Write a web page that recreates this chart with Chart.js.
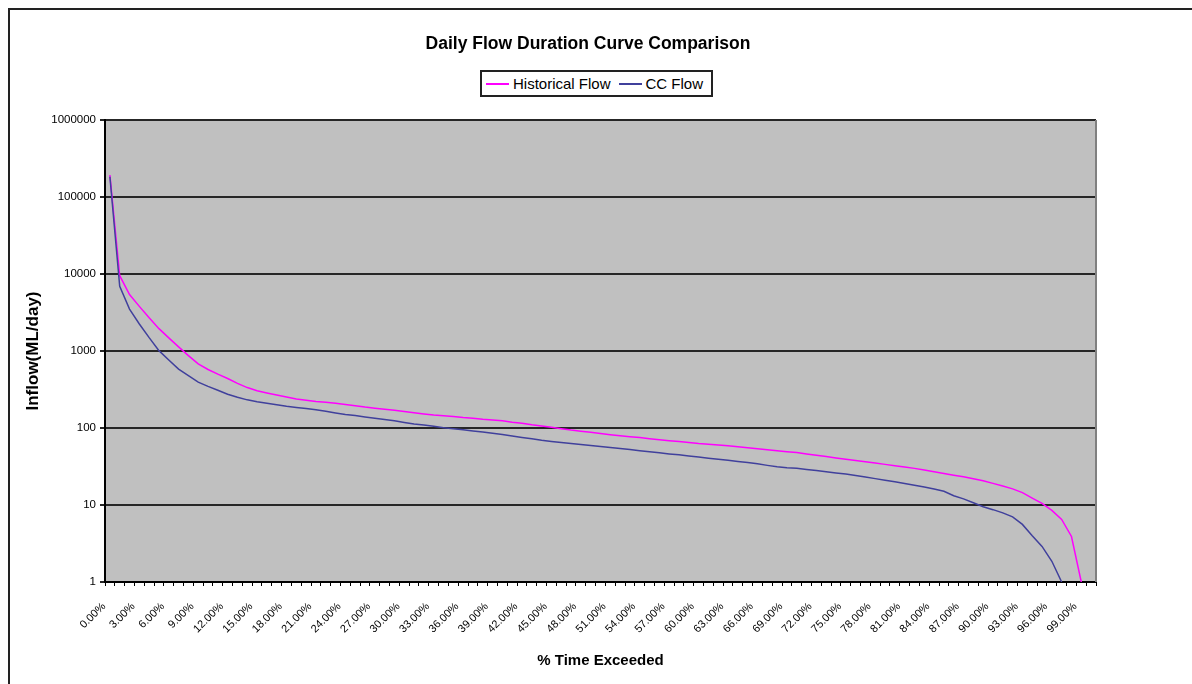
<!DOCTYPE html>
<html>
<head>
<meta charset="utf-8">
<title>Daily Flow Duration Curve Comparison</title>
<script src="https://cdn.jsdelivr.net/npm/chart.js@4.4.1/dist/chart.umd.min.js"></script>
<style>
  html, body { margin: 0; padding: 0; background: #fff; overflow: hidden; }
  body { width: 1192px; height: 684px; position: relative; font-family: Arial, "Liberation Sans", sans-serif; }
  #frame { position: absolute; left: 8px; top: 8px; width: 1200px; height: 700px; border-left: 2px solid #222; border-top: 2px solid #222; }
  #chartTitle { position: absolute; left: 0; top: 33px; width: 1176px; text-align: center; font-weight: bold; font-size: 17.5px; line-height: 20px; color: #000; }
  #legend { position: absolute; left: 480px; top: 70px; width: 233px; height: 27px; box-sizing: border-box; border: 2px solid #222; background: #fff;
            display: flex; align-items: center; font-size: 15px; color: #000; padding-left: 4px; }
  #legend .ln { display: inline-block; width: 23px; height: 2px; margin-right: 4px; }
  #legend .item { display: flex; align-items: center; margin-right: 8px; white-space: nowrap; }
  #wrap { position: absolute; left: 0; top: 0; width: 1192px; height: 684px; }
</style>
</head>
<body>
<div id="frame"></div>
<div id="wrap"><canvas id="flowCanvas" width="1192" height="684"></canvas></div>
<div id="chartTitle">Daily Flow Duration Curve Comparison</div>
<div id="legend"></div>
<script>
// % time exceeded categories, 0.00% .. 100.00%
const pctLabels = [];
for (let i = 0; i <= 100; i++) pctLabels.push(i.toFixed(2) + '%');

const yTicks = [1, 10, 100, 1000, 10000, 100000, 1000000];

// ML/day, one value per percent
const historicalFlow = [
  193000, 9500, 5400, 3800, 2700, 1950, 1480, 1130, 870, 680,
  575, 500, 440, 380, 335, 305, 285, 268, 252, 238,
  229, 221, 216, 210, 202, 195, 187, 181, 175, 170,
  164, 158, 152, 147, 144, 141, 137, 134, 130, 127,
  124, 119, 115, 110, 106, 102, 98, 94, 91, 88,
  85, 82, 79.4, 77, 75, 72.6, 70.5, 68.5, 66.7, 64.9,
  63, 61.7, 60.1, 58.6, 57, 55.5, 53.8, 52.2, 50.6, 49.2,
  47.9, 46, 44.3, 42.6, 40.9, 39.4, 37.8, 36.4, 35, 33.7,
  32.4, 31.1, 29.9, 28.4, 27, 25.6, 24.4, 23.2, 21.9, 20.7,
  19.1, 17.6, 16.2, 14.5, 12.3, 10.5, 8.5, 6.5, 3.9, 1
];

const ccFlow = [
  183000, 6900, 3500, 2240, 1490, 1010, 765, 582, 480, 395,
  347, 309, 275, 251, 232, 219, 209, 200, 191, 185,
  179, 172, 165, 157, 150, 145, 139, 134, 129, 124,
  118, 113, 109, 105, 101, 97.7, 94.6, 91.6, 88.5, 85.5,
  82.2, 78.9, 75.5, 72.4, 69.2, 66.8, 64.9, 63, 61.1, 59.4,
  57.7, 56, 54.3, 52.5, 50.8, 49.2, 47.6, 46.1, 44.8, 43.4,
  42, 40.6, 39.4, 38, 36.8, 35.6, 34.3, 32.7, 31.3, 30.5,
  30, 29, 28, 27, 26.1, 25.3, 24.2, 23.1, 22, 21,
  20, 19, 18.1, 17.1, 16.1, 15.1, 13.2, 12, 10.7, 9.5,
  8.7, 7.9, 7.0, 5.6, 4.0, 2.9, 1.86, 1
];

const seriesNames = ['Historical Flow', 'CC Flow'];
const seriesColors = ['#ff00ff', '#40409c'];

const FONT = 'Arial, "Liberation Sans", sans-serif';

// grey plot area + grey right edge, like the spreadsheet chart
const plotFrame = {
  id: 'plotFrame',
  beforeDraw(chart) {
    const { ctx, chartArea: a } = chart;
    ctx.save();
    ctx.fillStyle = '#c0c0c0';
    ctx.fillRect(a.left, a.top, a.width, a.height);
    ctx.restore();
  },
  afterDraw(chart) {
    const { ctx, chartArea: a } = chart;
    ctx.save();
    ctx.strokeStyle = '#808080';
    ctx.lineWidth = 2;
    ctx.beginPath();
    ctx.moveTo(a.right, a.top);
    ctx.lineTo(a.right, a.bottom);
    ctx.stroke();
    ctx.restore();
  }
};

// legend box
document.getElementById('legend').innerHTML = seriesNames.map((n, i) =>
  `<span class="item"><span class="ln" style="background:${seriesColors[i]}"></span>${n}</span>`
).join('');

new Chart(document.getElementById('flowCanvas'), {
  type: 'line',
  data: {
    labels: pctLabels,
    datasets: [
      {
        label: seriesNames[0],
        data: historicalFlow,
        borderColor: seriesColors[0],
        backgroundColor: seriesColors[0],
        borderWidth: 1.5,
        pointRadius: 0,
        tension: 0,
        fill: false,
        order: 1
      },
      {
        label: seriesNames[1],
        data: ccFlow,
        borderColor: seriesColors[1],
        backgroundColor: seriesColors[1],
        borderWidth: 1.5,
        pointRadius: 0,
        tension: 0,
        fill: false,
        order: 0
      }
    ]
  },
  options: {
    responsive: false,
    animation: false,
    devicePixelRatio: 1,
    layout: { padding: { top: 120, right: 96, bottom: 0, left: 0 } },
    plugins: {
      legend: { display: false },
      tooltip: { enabled: false }
    },
    scales: {
      x: {
        type: 'category',
        offset: true,
        grid: { offset: true, drawOnChartArea: false, drawTicks: true, tickLength: 4, color: '#000', lineWidth: 1 },
        border: { color: '#000', width: 2 },
        ticks: {
          autoSkip: false,
          minRotation: 45,
          maxRotation: 45,
          padding: 14,
          labelOffset: -6,
          color: '#000',
          font: { size: 11, family: FONT },
          callback: (v, i) => (i % 3 === 0 && i < 100 ? pctLabels[i] : '')
        },
        title: {
          display: true,
          text: '% Time Exceeded',
          color: '#000',
          font: { size: 15, weight: 'bold', family: FONT },
          padding: { top: 0, bottom: 14 }
        },
        afterFit: s => { s.height = 102; }
      },
      y: {
        type: 'logarithmic',
        min: 1,
        max: 1000000,
        afterBuildTicks: s => { s.ticks = yTicks.map(v => ({ value: v })); },
        grid: { color: '#262626', lineWidth: 2, tickLength: 5 },
        border: { color: '#000', width: 2 },
        ticks: {
          color: '#000',
          padding: 4,
          font: { size: 11.5, family: FONT },
          callback: v => String(v)
        },
        title: {
          display: true,
          text: 'Inflow(ML/day)',
          color: '#000',
          font: { size: 17, weight: 'bold', family: FONT },
          padding: { top: 23, bottom: 0 }
        },
        afterFit: s => { s.width = 105; }
      }
    }
  },
  plugins: [plotFrame]
});
</script>
</body>
</html>
